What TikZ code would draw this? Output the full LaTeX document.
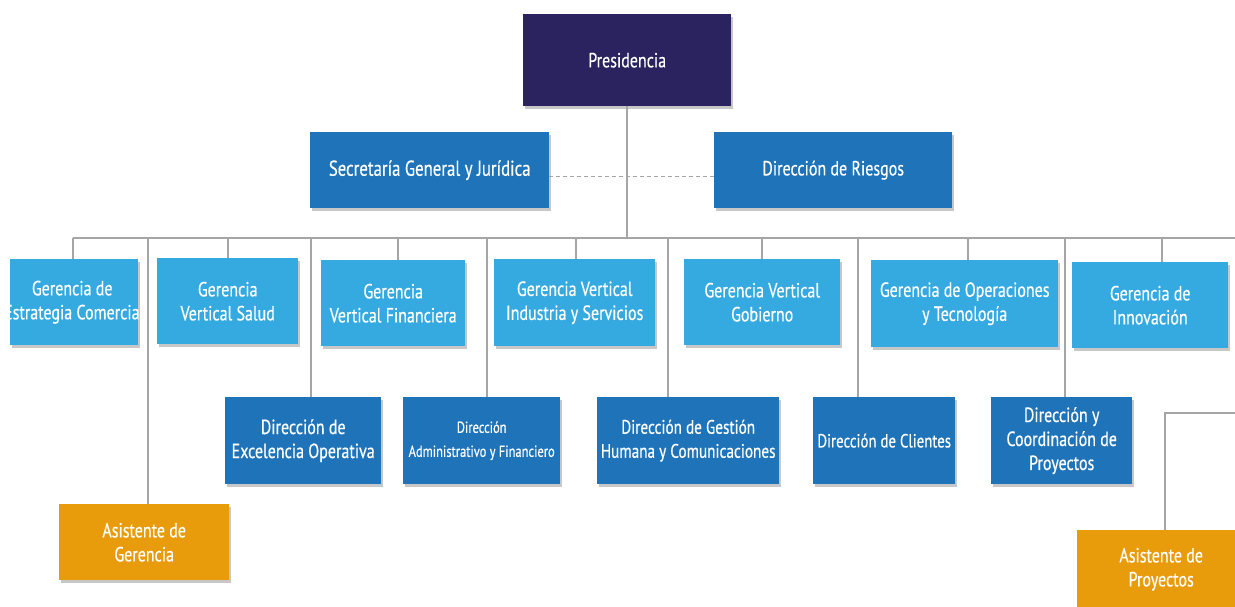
\documentclass[tikz,border=0pt]{standalone}
\usepackage{fontspec}
\setmainfont{PT Sans}[FakeStretch=0.78, FakeBold=0.4]
\usetikzlibrary{shadows}
\definecolor{navy}{HTML}{2A2360}
\definecolor{midblue}{HTML}{1F74B9}
\definecolor{lightblue}{HTML}{35AAE1}
\definecolor{orangebox}{HTML}{E99C0B}
\definecolor{linegray}{HTML}{A5A5A5}
\tikzset{
  box/.style={anchor=north west, inner sep=0pt, align=center, text=white,
    font=\fontsize{20.5}{24}\selectfont,
    drop shadow={shadow xshift=1.5pt, shadow yshift=-3pt, opacity=0.22, fill=black}},
  topbox/.style={box, fill=navy},
  midbox/.style={box, fill=midblue},
  litbox/.style={box, fill=lightblue},
  orgbox/.style={box, fill=orangebox},
  conn/.style={draw=linegray, line width=1.8pt},
}
\begin{document}
\begin{tikzpicture}[x=1pt,y=-1pt]
\useasboundingbox (0,0) rectangle (1235,606);
% top
\node[topbox, minimum width=208pt, minimum height=92pt] (pres) at (523,14) {Presidencia};
\node[midbox, minimum width=239pt, minimum height=76pt, font=\fontsize{21.5}{24}\selectfont] (sec) at (310,132) {Secretaría General y Jurídica};
\node[midbox, minimum width=238pt, minimum height=76pt] (rie) at (714,132) {Dirección de Riesgos};
% row 1
\node[litbox, minimum width=128pt, minimum height=86pt] (gec) at (10,259) {\makebox[0pt]{\hspace*{-4pt}Gerencia de}\\\makebox[0pt]{\hspace*{0pt}Estrategia Comercial}};
\node[litbox, minimum width=141pt, minimum height=86pt] (gvs) at (157,258) {Gerencia\\Vertical Salud};
\node[litbox, minimum width=144pt, minimum height=86pt] (gvf) at (321,260) {Gerencia\\Vertical Financiera};
\node[litbox, minimum width=161pt, minimum height=87pt] (gvi) at (494,259) {Gerencia Vertical\\Industria y Servicios};
\node[litbox, minimum width=156pt, minimum height=86pt] (gvg) at (684,259) {Gerencia Vertical\\Gobierno};
\node[litbox, minimum width=187pt, minimum height=87pt] (got) at (871,260) {Gerencia de Operaciones\\y Tecnología};
\node[litbox, minimum width=156pt, minimum height=86pt] (gin) at (1072,262) {Gerencia de\\Innovación};
% row 2
\node[midbox, minimum width=156pt, minimum height=87pt] (dex) at (225,397) {Dirección de\\Excelencia Operativa};
\node[midbox, minimum width=157pt, minimum height=87pt, font=\fontsize{16}{24}\selectfont] (dad) at (403,397) {Dirección\\Administrativo y Financiero};
\node[midbox, minimum width=182pt, minimum height=87pt, font=\fontsize{19.5}{24}\selectfont] (dgh) at (597,397) {Dirección de Gestión\\Humana y Comunicaciones};
\node[midbox, minimum width=142pt, minimum height=87pt, font=\fontsize{19}{24}\selectfont] (dcl) at (813,397) {Dirección de Clientes};
\node[midbox, minimum width=141pt, minimum height=87pt] (dcp) at (991,397) {Dirección y\\Coordinación de\\Proyectos};
% assistants
\node[orgbox, minimum width=170pt, minimum height=76pt] (aG) at (59,504) {Asistente de\\Gerencia};
\node[orgbox, minimum width=168pt, minimum height=78pt] (aP) at (1077,530) {Asistente de\\Proyectos};
% bus
\coordinate (bL) at (73,238);
\coordinate (bR) at (1235,238);
\coordinate (apR) at (1235,413);
% connectors
\draw[conn] (pres.south) -- (pres.south |- bL);
\draw[conn, dashed, line width=1.2pt, dash pattern=on 4pt off 3pt] ([yshift=-6pt]sec.east) -- ([yshift=-6pt]rie.west);
\draw[conn] (bL) -- (bR);
\draw[conn] (bL) -- (gec.north -| bL);
\draw[conn] (gvs.north) -- (gvs.north |- bL);
\draw[conn] ([xshift=5pt]gvf.north) -- ([xshift=5pt]gvf.north |- bL);
\draw[conn] ([xshift=1.5pt]gvi.north) -- ([xshift=1.5pt]gvi.north |- bL);
\draw[conn] (gvg.north) -- (gvg.north |- bL);
\draw[conn] ([xshift=3.5pt]got.north) -- ([xshift=3.5pt]got.north |- bL);
\draw[conn] ([xshift=12pt]gin.north) -- ([xshift=12pt]gin.north |- bL);
\draw[conn] ([xshift=4pt]aG.north) -- ([xshift=4pt]aG.north |- bL);
\draw[conn] ([xshift=8pt]dex.north) -- ([xshift=8pt]dex.north |- bL);
\draw[conn] ([xshift=5.5pt]dad.north) -- ([xshift=5.5pt]dad.north |- bL);
\draw[conn] ([xshift=-20pt]dgh.north) -- ([xshift=-20pt]dgh.north |- bL);
\draw[conn] ([xshift=-26pt]dcl.north) -- ([xshift=-26pt]dcl.north |- bL);
\draw[conn] ([xshift=3.5pt]dcp.north) -- ([xshift=3.5pt]dcp.north |- bL);
\draw[conn] (apR) -| ([xshift=4pt]aP.north);
\end{tikzpicture}
\end{document}
